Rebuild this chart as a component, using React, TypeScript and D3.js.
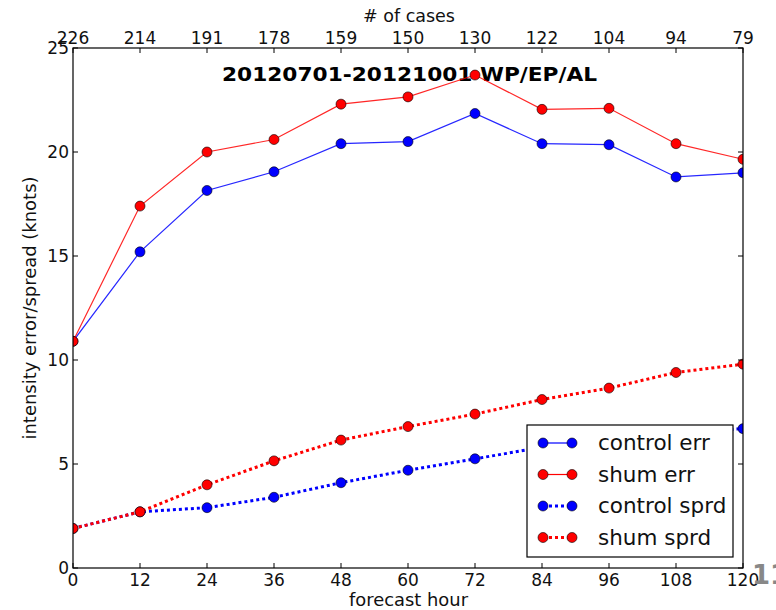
import React from "react";
import * as d3 from "d3";

const hours = [0, 12, 24, 36, 48, 60, 72, 84, 96, 108, 120];
const cases = ["226", "214", "191", "178", "159", "150", "130", "122", "104", "94", "79"];
const controlErr = [10.9, 15.2, 18.15, 19.05, 20.4, 20.5, 21.85, 20.4, 20.35, 18.8, 19.0];
const shumErr = [10.9, 17.4, 20.0, 20.6, 22.3, 22.65, 23.7, 22.05, 22.1, 20.4, 19.65];
const controlSprd = [1.9, 2.7, 2.9, 3.4, 4.1, 4.7, 5.25, 5.8, 6.2, 6.5, 6.7];
const shumSprd = [1.9, 2.7, 4.0, 5.15, 6.15, 6.8, 7.4, 8.1, 8.65, 9.4, 9.8];
const yTicks = [0, 5, 10, 15, 20, 25];

const series = [
  { name: "control err", values: controlErr, color: "#0000ff", dotted: false },
  { name: "shum err", values: shumErr, color: "#ff0000", dotted: false },
  { name: "control sprd", values: controlSprd, color: "#0000ff", dotted: true },
  { name: "shum sprd", values: shumSprd, color: "#ff0000", dotted: true },
];

export default function App() {
  const W = 776, H = 610;
  const L = 73, R = 743, T = 48, B = 568;
  const x = d3.scaleLinear().domain([0, 120]).range([L, R]);
  const y = d3.scaleLinear().domain([0, 25]).range([B, T]);
  const font = "DejaVu Sans, sans-serif";
  const line = (vals: number[]) =>
    d3.line<number>().x((_, i) => x(hours[i])).y((v) => y(v))(vals) || "";

  const legX = 527, legY = 425, legW = 206, legH = 132;
  const rowH = 31.5;
  const tickFs = 17;

  return (
    <svg width={W} height={H} style={{ position: "absolute", left: 0, top: 0 }} fontFamily={font}>
      <rect x={0} y={0} width={W} height={H} fill="white" />
      <defs>
        <clipPath id="plotclip">
          <rect x={L} y={T} width={R - L} height={B - T} />
        </clipPath>
      </defs>
      <text x={409.5} y={81} fontSize={20} fontWeight="bold" textAnchor="middle" fill="#000"
        textLength={375} lengthAdjust="spacingAndGlyphs">
        20120701-20121001 WP/EP/AL
      </text>
      <g clipPath="url(#plotclip)">
        {series.map((s) => (
          <g key={s.name}>
            <path
              d={line(s.values)}
              fill="none"
              stroke={s.color}
              strokeWidth={s.dotted ? 3 : 1.2}
              strokeDasharray={s.dotted ? "3,3" : undefined}
              opacity={s.dotted ? 1 : 0.85}
            />
            {s.values.map((v, i) => (
              <circle key={i} cx={x(hours[i])} cy={y(v)} r={5} fill={s.color} stroke="#000" strokeWidth={0.6} />
            ))}
          </g>
        ))}
      </g>
      {/* frame */}
      <rect x={L} y={T} width={R - L} height={B - T} fill="none" stroke="#000" strokeWidth={1.2} />
      {/* x ticks bottom and top */}
      {hours.map((h, i) => (
        <g key={h}>
          <line x1={x(h)} x2={x(h)} y1={B} y2={B - 5} stroke="#000" />
          <line x1={x(h)} x2={x(h)} y1={T} y2={T + 5} stroke="#000" />
          <text x={x(h)} y={B + 18} fontSize={tickFs} textAnchor="middle" fill="#111">{h}</text>
          <text x={x(h)} y={T - 4} fontSize={tickFs} textAnchor="middle" fill="#111">{cases[i]}</text>
        </g>
      ))}
      {yTicks.map((t) => (
        <g key={t}>
          <line x1={L} x2={L + 5} y1={y(t)} y2={y(t)} stroke="#000" />
          <line x1={R} x2={R - 5} y1={y(t)} y2={y(t)} stroke="#000" />
          <text x={L - 4} y={y(t) + 6} fontSize={tickFs} textAnchor="end" fill="#111">{t}</text>
        </g>
      ))}
      <text x={408.5} y={606} fontSize={17} textAnchor="middle" fill="#111"
        textLength={119} lengthAdjust="spacingAndGlyphs">forecast hour</text>
      <text x={409} y={22} fontSize={17.5} textAnchor="middle" fill="#111"># of cases</text>
      <text
        transform={`translate(36,${(T + B) / 2}) rotate(-90)`}
        fontSize={17.5}
        textAnchor="middle"
        fill="#111"
        textLength={263}
        lengthAdjust="spacingAndGlyphs"
      >
        intensity error/spread (knots)
      </text>
      {/* legend */}
      <rect x={legX} y={legY} width={legW} height={legH} fill="white" stroke="#000" strokeWidth={1.2} />
      {series.map((s, i) => {
        const cy = legY + 18 + i * rowH;
        return (
          <g key={s.name}>
            <line
              x1={543}
              x2={572}
              y1={cy}
              y2={cy}
              stroke={s.color}
              strokeWidth={s.dotted ? 3 : 1.2}
              strokeDasharray={s.dotted ? "3,3" : undefined}
            />
            <circle cx={543} cy={cy} r={5} fill={s.color} stroke="#000" strokeWidth={0.6} />
            <circle cx={572} cy={cy} r={5} fill={s.color} stroke="#000" strokeWidth={0.6} />
            <text x={598} y={cy + 7} fontSize={21.5} fill="#111">{s.name}</text>
          </g>
        );
      })}
      <text x={752} y={584} fontSize={26} fontWeight="bold" fill="#888">11</text>
    </svg>
  );
}
